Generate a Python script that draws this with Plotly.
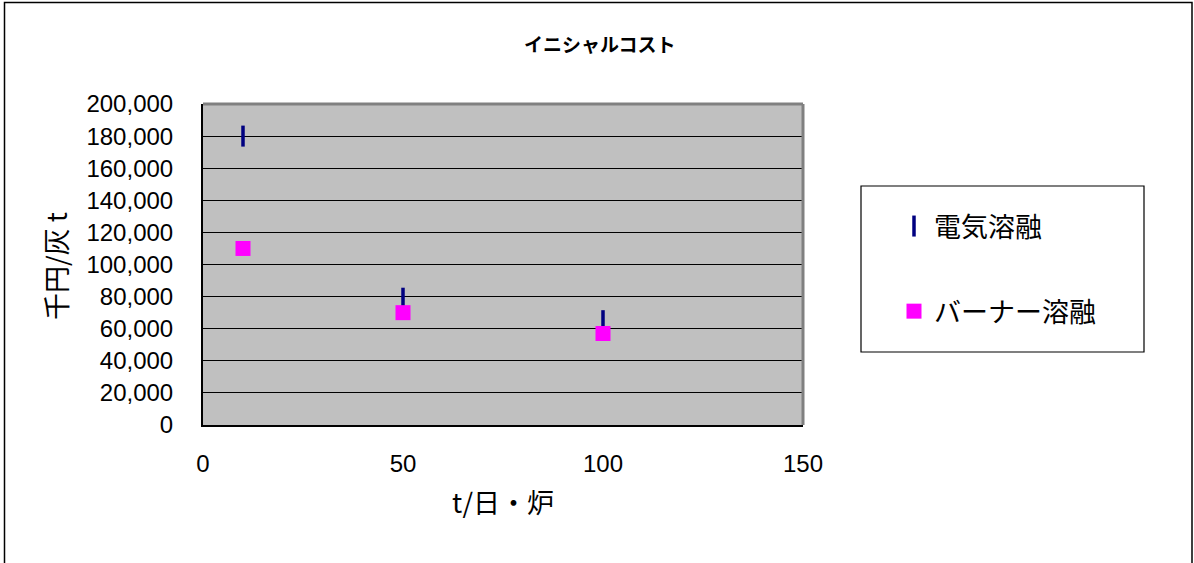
import plotly.graph_objects as go

# Daily throughput (t/日・炉)
capacity = [10, 50, 100]
# Initial cost, thousand yen per tonne of ash
electric_melting = [180000, 79000, 65000]
burner_melting = [110000, 70000, 57000]

title_text = "イニシャルコスト"
x_title = "t/日・炉"
y_title = "千円/灰 t"

# plot-area geometry in pixels
W, H = 1194, 563
L, R, T, B = 203, 803, 104, 425
pw, ph = R - L, B - T


def px(x):
    return (x - L) / pw


def py(y):
    return (B - y) / ph


fig = go.Figure()
fig.add_trace(go.Scatter(
    x=capacity, y=electric_melting, mode="markers", name="電気溶融",
    legendgroup="a",
    marker=dict(symbol="line-ns", size=15, color="#000080",
                line=dict(color="#000080", width=3.5)),
))
fig.add_trace(go.Scatter(
    x=capacity, y=burner_melting, mode="markers", name="バーナー溶融",
    legendgroup="b",
    marker=dict(symbol="square", size=15, color="#FF00FF",
                line=dict(width=0)),
))

tick_font = dict(family="Liberation Sans, Arial", size=24, color="black")

fig.update_layout(
    width=W, height=H,
    margin=dict(l=L, r=W - R, t=T, b=H - B),
    paper_bgcolor="white",
    plot_bgcolor="#C0C0C0",
    showlegend=True,
    legend=dict(
        x=px(894), y=py(202), xanchor="left", yanchor="top",
        bgcolor="rgba(0,0,0,0)", borderwidth=0,
        font=dict(family="Noto Sans CJK JP", size=27, color="black"),
        traceorder="grouped", tracegroupgap=47,
    ),
    xaxis=dict(
        range=[0, 150], tickvals=[0, 50, 100, 150], showgrid=False,
        zeroline=False, showline=True, linecolor="black", linewidth=2,
        ticks="", ticklabelstandoff=16, tickfont=tick_font,
    ),
    yaxis=dict(
        range=[0, 200000], dtick=20000, tickformat=",",
        showgrid=True, gridcolor="black", gridwidth=1.2,
        zeroline=False, showline=True, linecolor="black", linewidth=2,
        ticks="", ticklabelstandoff=23, tickfont=tick_font,
    ),
    shapes=[
        # top and right borders of the plot area
        dict(type="line", xref="paper", yref="paper", x0=0, x1=1, y0=1, y1=1,
             line=dict(color="#808080", width=3)),
        dict(type="line", xref="paper", yref="paper", x0=1, x1=1, y0=0, y1=1,
             line=dict(color="#808080", width=3)),
        # legend frame
        dict(type="rect", xref="paper", yref="paper",
             x0=px(861), x1=px(1144), y0=py(352), y1=py(186),
             line=dict(color="black", width=1.2), fillcolor="white",
             layer="below"),
        # chart frame
        dict(type="rect", xref="paper", yref="paper",
             x0=px(4.5), x1=px(1192), y0=py(600), y1=py(2.5),
             line=dict(color="black", width=1.5), fillcolor="rgba(0,0,0,0)"),
    ],
    annotations=[
        dict(text=title_text, xref="paper", yref="paper",
             x=px(600), y=py(43), showarrow=False,
             xanchor="center", yanchor="middle",
             font=dict(family="Noto Sans CJK JP", size=19, color="black",
                       weight="bold")),
        dict(text=x_title, xref="paper", yref="paper",
             x=px(503), y=py(501), showarrow=False,
             xanchor="center", yanchor="middle",
             font=dict(family="Noto Sans CJK JP", size=27, color="black")),
        dict(text=y_title, xref="paper", yref="paper",
             x=px(55), y=py(266), showarrow=False, textangle=-90,
             xanchor="center", yanchor="middle",
             font=dict(family="Noto Sans CJK JP", size=27, color="black")),
    ],
)

fig.write_html("out.html")
